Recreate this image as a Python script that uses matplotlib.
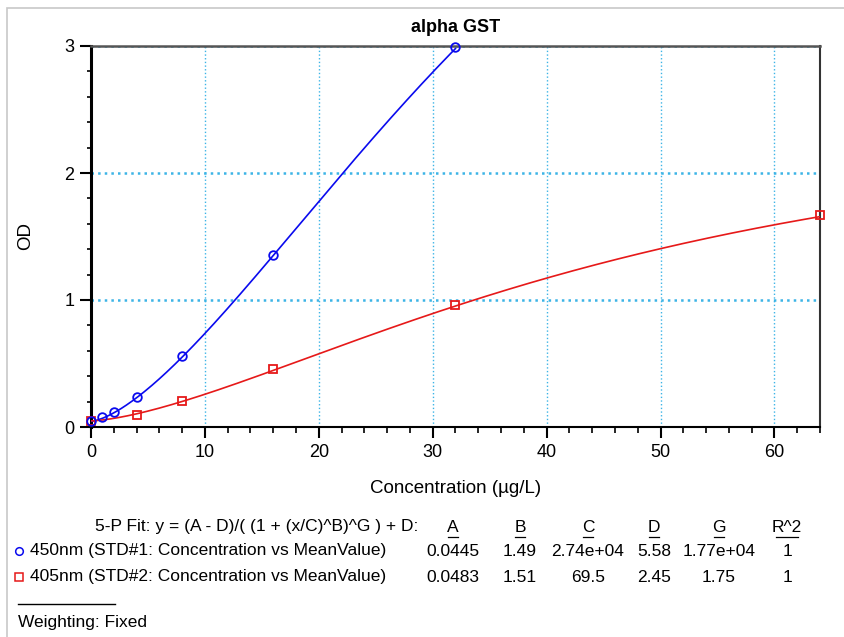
import matplotlib.pyplot as plt
import numpy as np
from matplotlib.lines import Line2D
from matplotlib.patches import Rectangle

plt.rcParams['font.family'] = ['Liberation Sans', 'DejaVu Sans']

# standards
conc_450 = [0, 1, 2, 4, 8, 16, 32]
od_450 = [0.05, 0.08, 0.12, 0.237, 0.56, 1.355, 2.99]
conc_405 = [0, 4, 8, 16, 32, 64]
od_405 = [0.05, 0.098, 0.203, 0.453, 0.96, 1.666]

# 5-P fit parameters as printed under the chart
param_names = ['A', 'B', 'C', 'D', 'G', 'R^2']
fit_450 = [0.0445, 1.49, 2.74e4, 5.58, 1.77e4]
fit_405 = [0.0483, 1.51, 69.5, 2.45, 1.75]
labels_450 = ['0.0445', '1.49', '2.74e+04', '5.58', '1.77e+04', '1']
labels_405 = ['0.0483', '1.51', '69.5', '2.45', '1.75', '1']


def five_pl(x, A, B, C, D, G):
    return (A - D) / ((1 + (x / C) ** B) ** G) + D


blue = '#0a0aee'
red = '#e61919'
grid_c = '#3cb4e6'

fig = plt.figure(figsize=(8.44, 6.37), dpi=100)
ax = fig.add_axes([91 / 844, 1 - 427 / 637, 729 / 844, 381 / 637])

xs1 = np.linspace(0, max(conc_450), 300)
xs2 = np.linspace(0, max(conc_405), 300)
ax.plot(xs1, five_pl(xs1, *fit_450), color=blue, lw=1.2, zorder=3)
ax.plot(xs2, five_pl(xs2, *fit_405), color=red, lw=1.2, zorder=3)
ax.plot(conc_405, od_405, ls='none', marker='s', ms=6, mfc='none', mec=red, mew=1.3,
        zorder=4, clip_on=False)
ax.plot(conc_450, od_450, ls='none', marker='o', ms=6.2, mfc='none', mec=blue, mew=1.3,
        zorder=5, clip_on=False)

ax.set_xlim(0, 64)
ax.set_ylim(0, 3)
ax.set_xticks(np.arange(0, 61, 10))
ax.set_xticks(np.arange(0, 65, 2), minor=True)
ax.set_yticks([0, 1, 2, 3])
ax.set_yticks(np.arange(0, 3.01, 0.2), minor=True)
ax.tick_params(axis='both', which='major', labelsize=13, colors='black', width=1.5)
ax.tick_params(axis='x', which='major', length=8, pad=4)
ax.tick_params(axis='x', which='minor', length=4, width=1.2)
ax.tick_params(axis='y', which='major', length=8, pad=4)
ax.tick_params(axis='y', which='minor', length=3, width=1.2)

ax.xaxis.grid(True, which='major', color=grid_c, ls=':', lw=1)
ax.yaxis.grid(True, which='major', color=grid_c, ls=':', lw=1.8)
ax.set_axisbelow(True)

ax.spines['left'].set_linewidth(2.2)
ax.spines['left'].set_color('black')
ax.spines['bottom'].set_linewidth(1.5)
ax.spines['bottom'].set_color('black')
ax.spines['top'].set_linewidth(1.8)
ax.spines['top'].set_color('#555555')
ax.spines['right'].set_linewidth(1.5)
ax.spines['right'].set_color('#333333')

ax.set_title('alpha GST', fontsize=13, fontweight='bold', pad=10)
ax.set_xlabel('Concentration (µg/L)', fontsize=13.5, labelpad=14)
ax.set_ylabel('OD', fontsize=13.5, labelpad=22)

# outer frame
fig.patches.append(Rectangle((7 / 844, -0.1), 1.2, 1 - 8 / 637 + 0.1, transform=fig.transFigure,
                             fill=False, edgecolor='#c8c8c8', lw=1.2))

# fit table
fs = 12.5
col_x = [453, 520, 588, 654, 719, 787]
fig.text(418 / 844, 1 - 527 / 637, '5-P Fit: y = (A - D)/( (1 + (x/C)^B)^G ) + D:',
         fontsize=fs, ha='right', va='center')
for name, cx in zip(param_names, col_x):
    t = fig.text(cx / 844, 1 - 527 / 637, name, fontsize=fs, ha='center', va='center')
    w = 10 if name != 'R^2' else 22
    fig.lines.append(Line2D([(cx - w / 2) / 844, (cx + w / 2) / 844], [1 - 537 / 637] * 2,
                            transform=fig.transFigure, color='black', lw=0.9))

rows = [('450nm (STD#1: Concentration vs MeanValue)', labels_450, 'o', blue, 551),
        ('405nm (STD#2: Concentration vs MeanValue)', labels_405, 's', red, 577)]
for name, vals, mk, c, yp in rows:
    fig.lines.append(Line2D([19 / 844], [1 - yp / 637], transform=fig.transFigure, ls='none',
                            marker=mk, ms=5.5, mfc='none', mec=c, mew=1.1))
    fig.text(30 / 844, 1 - yp / 637, name, fontsize=fs, ha='left', va='center')
    for v, cx in zip(vals, col_x):
        fig.text(cx / 844, 1 - yp / 637, v, fontsize=fs, ha='center', va='center')

fig.lines.append(Line2D([18 / 844, 115 / 844], [1 - 604 / 637] * 2, transform=fig.transFigure,
                        color='black', lw=1))
fig.text(18 / 844, 1 - 622 / 637, 'Weighting: Fixed', fontsize=fs, ha='left', va='center')

fig.savefig('out.png', dpi=100)
